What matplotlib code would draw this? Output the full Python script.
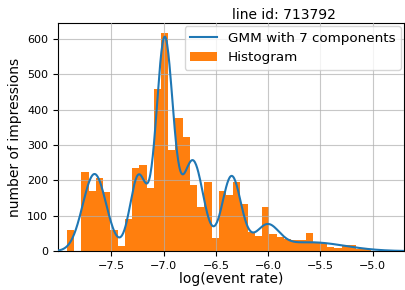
import numpy as np
import matplotlib
matplotlib.use("Agg")
import matplotlib.pyplot as plt

# histogram of log(event rate)
bin_start = -7.923
bin_end = -5.021
counts = [60, 0, 224, 170, 206, 167, 60, 15, 90, 236, 244, 179, 459, 617,
          286, 375, 322, 188, 125, 196, 38, 170, 160, 196, 134, 55, 42, 124,
          48, 39, 33, 31, 31, 50, 26, 22, 12, 8, 16, 18, 6, 6]

# fitted GMM components (mean, std, peak height in counts)
gmm_means = [-7.66, -7.24, -6.99, -6.72, -6.35, -6.01, -5.60]
gmm_stds = [0.112, 0.08, 0.08, 0.10, 0.09, 0.11, 0.33]
gmm_peaks = [218, 212, 598, 255, 210, 65, 25]

line_id = 713792
x_range = (-8.01, -4.70)

edges = np.linspace(bin_start, bin_end, len(counts) + 1)
xs = np.linspace(x_range[0], x_range[1], 600)
gmm = np.zeros_like(xs)
for m, s, a in zip(gmm_means, gmm_stds, gmm_peaks):
    gmm += a * np.exp(-0.5 * ((xs - m) / s) ** 2)

fig = plt.figure(figsize=(4.05, 2.9), dpi=100)
ax = fig.add_axes([0.143, 0.134, 0.855, 0.787])

ax.bar(edges[:-1], counts, width=np.diff(edges), align='edge',
       color='#ff7f0e', label='Histogram', zorder=1)
ax.plot(xs, gmm, color='#1f77b4', lw=1.5,
        label='GMM with %d components' % len(gmm_means), zorder=3)

ax.grid(True, color='#b0b0b0', alpha=0.7, lw=0.8, zorder=2)
ax.set_axisbelow(False)
ax.set_xlim(*x_range)
ax.set_ylim(0, 645)
ax.set_xticks([-7.5, -7.0, -6.5, -6.0, -5.5, -5.0])
ax.set_yticks(range(0, 601, 100))
ax.tick_params(labelsize=8)
ax.set_xlabel('log(event rate)', fontsize=10, labelpad=1)
ax.set_ylabel('number of impressions', fontsize=10)
ax.set_title('line id: %d' % line_id, fontsize=10, pad=3, x=0.653)
ax.legend(loc='upper right', fontsize=9.7, borderaxespad=0.25)

fig.savefig('out.png', dpi=100)
